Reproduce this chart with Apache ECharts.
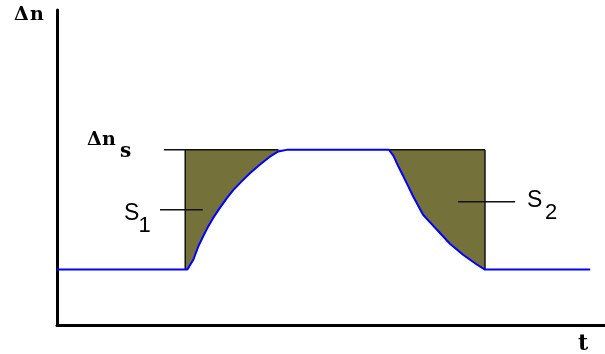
<!DOCTYPE html>
<html>
<head>
<meta charset="utf-8">
<script src="https://cdn.jsdelivr.net/npm/echarts@6/dist/echarts.min.js"></script>
<style>
  html, body { margin: 0; padding: 0; background: #ffffff; }
  #chart { width: 605px; height: 354px; }
</style>
</head>
<body>
<div id="chart"></div>
<script>
// Excess carrier density Δn(t) for a switched-on / switched-off excitation (arbitrary units)
const nBase = 17.6;   // level before and after the pulse
const nSat = 55.6;    // saturated level Δn_s
const tBegin = 0;
const tEnd = 97.3;

// build-up after switch-on
const tRise = [23.4, 23.8, 24.9, 25.8, 26.7, 27.6, 28.5, 29.7, 31.0, 32.2, 33.7, 35.2, 37.0, 38.9, 40.4, 41.9];
const nRise = [17.6, 17.6, 20.8, 25.0, 28.2, 31.3, 34.0, 37.1, 40.3, 42.9, 45.6, 48.2, 50.9, 53.5, 55.1, 55.6];

// decay after switch-off
const tFall = [60.6, 61.4, 62.3, 63.2, 64.1, 65.0, 66.8, 69.3, 71.7, 74.1, 76.6, 78.1];
const nFall = [55.6, 53.7, 50.3, 47.2, 44.0, 40.8, 35.0, 30.3, 25.8, 22.3, 19.2, 17.6];

// Δn_s reference tick start and the leader lines for the S1 / S2 areas
const tSatTick = 19.5;
const s1Leader = { t: [18.8, 26.6], n: 36.6 };
const s2Leader = { t: [73.2, 83.6], n: 39.1 };

const zip = (xs, ys) => xs.map((x, i) => [x, ys[i]]);
const risePts = zip(tRise, nRise);
const fallPts = zip(tFall, nFall);

// full curve
const curve = [[tBegin, nBase]].concat(risePts, fallPts, [[tEnd, nBase]]);

// shaded areas S1 (between curve and Δn_s during build-up) and S2 (during decay)
const areaS1 = risePts.concat([[tRise[0], nSat]]);
const areaS2 = fallPts.concat([[tFall[tFall.length - 1], nSat]]);
const areas = [areaS1, areaS2];

// black outline segments
const tRiseTop = tRise[tRise.length - 2];
const tFallEnd = tFall[tFall.length - 1];
const segments = [
  [[tRise[0], nBase], [tRise[0], nSat]],
  [[tSatTick, nSat], [tRiseTop, nSat]],
  [[tFall[0], nSat], [tFallEnd, nSat]],
  [[tFallEnd, nBase], [tFallEnd, nSat]],
  [[s1Leader.t[0], s1Leader.n], [s1Leader.t[1], s1Leader.n]],
  [[s2Leader.t[0], s2Leader.n], [s2Leader.t[1], s2Leader.n]]
];

const OLIVE = '#74723a';
const BLUE = '#0000ff';

const segmentSeries = segments.map(seg => ({
  type: 'line',
  data: seg,
  showSymbol: false,
  silent: true,
  z: 3,
  lineStyle: { color: '#111111', width: 1.5 }
}));

const serif = '"DejaVu Serif", "Liberation Serif", serif';
const sans = '"Liberation Sans", Arial, sans-serif';

const label = (text, x, y, font) => ({
  type: 'text', x: x, y: y,
  style: { text: text, font: font, fill: '#000', align: 'left', verticalAlign: 'middle' }
});

const chart = echarts.init(document.getElementById('chart'), null, { renderer: 'canvas' });
chart.setOption({
  animation: false,
  backgroundColor: '#ffffff',
  grid: { left: 57, right: 0, top: 10, bottom: 29 },
  xAxis: {
    type: 'value', min: 0, max: 100,
    axisLine: { show: true, lineStyle: { color: '#000000', width: 3 } },
    axisTick: { show: false }, axisLabel: { show: false }, splitLine: { show: false }
  },
  yAxis: {
    type: 'value', min: 0, max: 100,
    axisLine: { show: true, lineStyle: { color: '#000000', width: 3 } },
    axisTick: { show: false }, axisLabel: { show: false }, splitLine: { show: false }
  },
  series: [
    {
      type: 'custom',
      silent: true,
      z: 1,
      data: areas.map((a, i) => [i]),
      renderItem: (params, api) => ({
        type: 'polygon',
        shape: { points: areas[params.dataIndex].map(p => api.coord(p)) },
        style: { fill: OLIVE, stroke: null }
      })
    },
    ...segmentSeries,
    {
      type: 'line',
      data: curve,
      showSymbol: false,
      silent: true,
      z: 4,
      lineStyle: { color: BLUE, width: 2 }
    }
  ],
  graphic: [
    label('Δ', 14, 15, 'bold 19px ' + serif),
    label('n', 30, 15, 'bold 19px ' + serif),
    label('Δ', 87, 140, 'bold 19px ' + serif),
    label('n', 102, 140, 'bold 19px ' + serif),
    label('s', 120, 152, 'bold 20px ' + serif),
    label('S', 124, 213.5, '23px ' + sans),
    label('1', 138.5, 225.5, '22px ' + sans),
    label('S', 527, 201, '23px ' + sans),
    label('2', 545, 212.5, '22px ' + sans),
    label('t', 578, 344, 'bold 22px ' + serif)
  ]
});
</script>
</body>
</html>
